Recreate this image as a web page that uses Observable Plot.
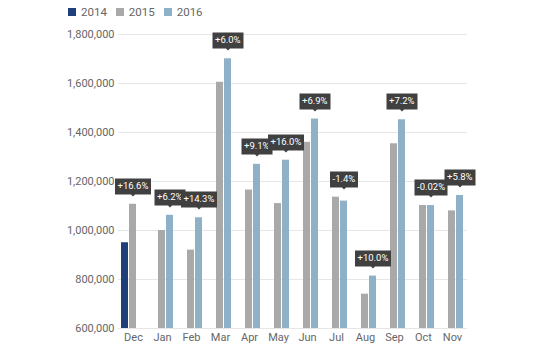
<!DOCTYPE html>
<html>
<head>
<meta charset="utf-8">
<script src="https://cdn.jsdelivr.net/npm/d3@7"></script>
<script src="https://cdn.jsdelivr.net/npm/@observablehq/plot@0.6"></script>
<style>
  html, body { margin: 0; padding: 0; background: #fff; }
  body { width: 550px; height: 348px; overflow: hidden; font-family: Roboto, "Noto Sans", sans-serif; }
  #legend { height: 24px; display: flex; align-items: center; padding-left: 68px; font-size: 11.5px; color: #666; }
  #legend .item { display: flex; align-items: center; margin-right: 9px; }
  #legend .sw { width: 8px; height: 8px; margin-right: 5px; }
  g[aria-label="tip"] text, g[aria-label="tip"] tspan { fill: #fff; }
</style>
</head>
<body>
<div id="legend"></div>
<div id="chart"></div>
<script>
const months = ["Dec","Jan","Feb","Mar","Apr","May","Jun","Jul","Aug","Sep","Oct","Nov"];
const years = ["2014","2015","2016"];
const colors = ["#1f3f7a","#a9a9a9","#8fb1c7"];
const v2014 = [950000, null, null, null, null, null, null, null, null, null, null, null];
const v2015 = [1107000, 1000000, 920000, 1605000, 1165000, 1110000, 1360000, 1136000, 740000, 1354000, 1102000, 1080000];
const v2016 = [null, 1062000, 1052000, 1701000, 1270000, 1287000, 1455000, 1120000, 814000, 1452000, 1101800, 1143000];
const changes = ["+16.6%","+6.2%","+14.3%","+6.0%","+9.1%","+16.0%","+6.9%","-1.4%","+10.0%","+7.2%","-0.02%","+5.8%"];
const yTicks = [600000, 800000, 1000000, 1200000, 1400000, 1600000, 1800000];

const series = [v2014, v2015, v2016];
const bars = [];
months.forEach((m, i) => {
  years.forEach((yr, j) => {
    const v = series[j][i];
    if (v != null) bars.push({month: m, year: yr, value: v});
  });
});
const notes = months.map((m, i) => {
  const cur = v2016[i] != null ? "2016" : "2015";
  const vals = [v2014[i], v2015[i], v2016[i]].filter(v => v != null);
  return {month: m, year: cur, value: Math.max(...vals), label: changes[i]};
});
const grid = [];
months.forEach(m => yTicks.forEach(t => grid.push({month: m, value: t})));

// legend
const legend = document.getElementById("legend");
years.forEach((yr, j) => {
  const it = document.createElement("div");
  it.className = "item";
  const sw = document.createElement("div");
  sw.className = "sw";
  sw.style.background = colors[j];
  const t = document.createElement("span");
  t.textContent = yr;
  it.appendChild(sw); it.appendChild(t);
  legend.appendChild(it);
});

const chart = Plot.plot({
  width: 550,
  height: 324,
  marginTop: 10,
  marginBottom: 20,
  marginLeft: 113,
  marginRight: 78,
  style: {fontFamily: "Roboto, 'Noto Sans', sans-serif", fontSize: "11px", color: "#666", background: "#fff"},
  fx: {domain: months, paddingInner: 0.12, paddingOuter: 0.06, label: null, axis: "bottom", tickSize: 0, tickPadding: 5},
  x: {domain: years, padding: 0.1, axis: null},
  y: {domain: [600000, 1800000], ticks: yTicks, tickFormat: d3.format(","), label: null, tickSize: 0, tickPadding: 6},
  color: {domain: years, range: colors},
  marks: [
    Plot.ruleY(grid, {fx: "month", y: "value", stroke: "#e6e6e6", strokeWidth: 1, insetLeft: -1.9, insetRight: -1.9}),
    Plot.barY(bars, {fx: "month", x: "year", y1: 600000, y2: "value", fill: "year"}),
    Plot.tip(notes, {
      fx: "month", x: "year", y: "value", title: "label",
      anchor: "bottom", dy: -8,
      fill: "#404040", stroke: "none", fontSize: 9.5,
      textPadding: 2.5, pointerSize: 4, pathFilter: "none"
    })
  ]
});
document.getElementById("chart").appendChild(chart);
</script>
</body>
</html>
